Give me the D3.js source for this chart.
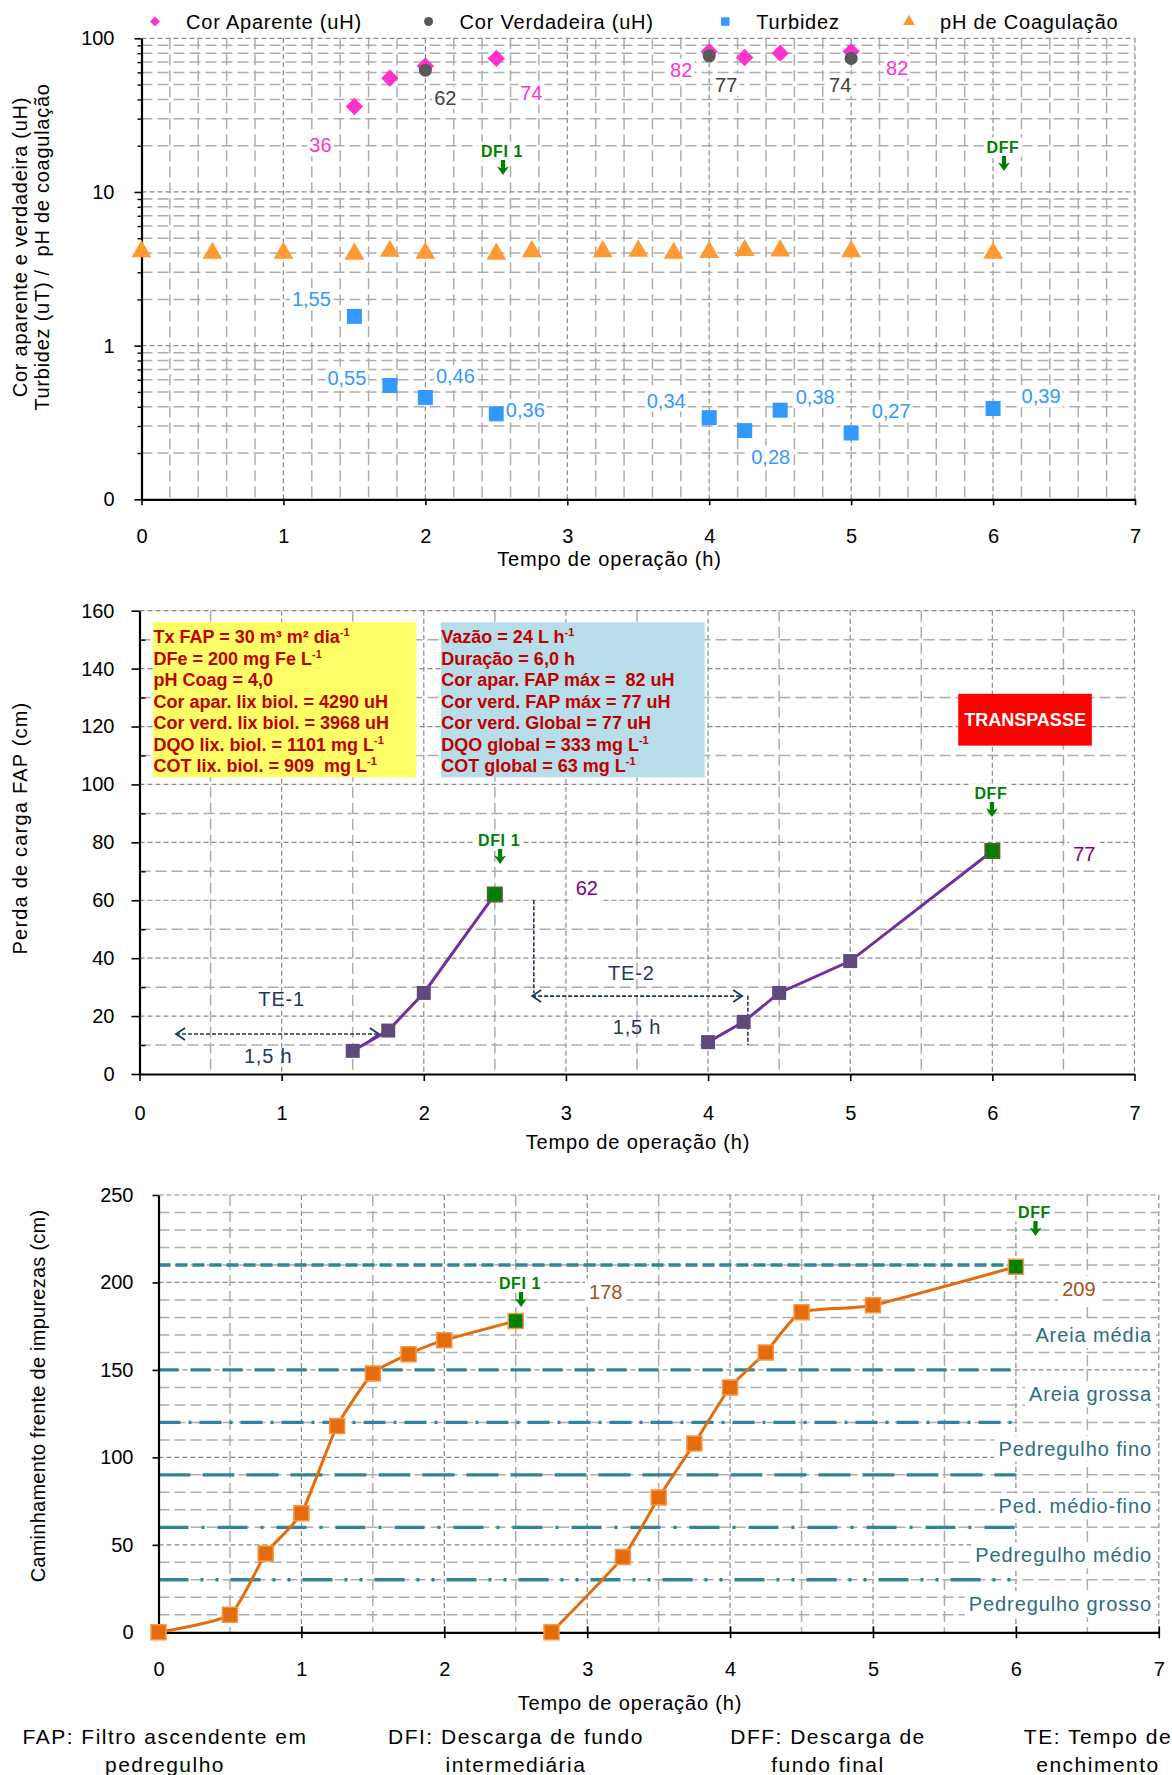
<!DOCTYPE html>
<html><head><meta charset="utf-8">
<script src="https://cdn.jsdelivr.net/npm/d3@7"></script>
<style>
body{margin:0;background:#fff;}
svg text{font-family:Arial,"Liberation Sans",sans-serif;}
</style></head><body>
<svg id="c" width="1172" height="1775"></svg>
<script>
// ---------------- DATA ----------------
const xTicks = [0,1,2,3,4,5,6,7];
// Chart 1 (log)
const y1Ticks = [0.1,1,10,100];
const y1TickLabels = ["0","1","10","100"];
const corApTime = [1.5,1.75,2,2.5,4,4.25,4.5,5];
const corApVal  = [36,55,66,74,82,75,80,82];
const corVerTime = [2,4,5];
const corVerVal  = [62,77,74];
const turbTime = [1.5,1.75,2,2.5,4,4.25,4.5,5,6];
const turbVal  = [1.55,0.55,0.46,0.36,0.34,0.28,0.38,0.27,0.39];
const phTime = [0,0.5,1,1.5,1.75,2,2.5,2.75,3.25,3.5,3.75,4,4.25,4.5,5,6];
const phVal  = [4.1,4.0,4.0,3.95,4.12,4.0,3.95,4.1,4.1,4.13,4.0,4.05,4.17,4.15,4.1,4.0];
const legendNames = ["Cor Aparente (uH)","Cor Verdadeira (uH)","Turbidez","pH de Coagulação"];
// labelled points (indices) and label offsets (px)
const corApLabIdx = [0,3,4,7];
const corApLabDx = [-34,35,-28,46], corApLabDy = [39,35,18,16];
const corVerLabDx = [20,17,-11], corVerLabDy = [28,29,27];
const turbLabDx = [-43,-43,30,29,-43,26,35,40,48], turbLabDy = [-17,-8,-21,-4,-17,26,-13,-22,-12];

// Chart 2 (perda de carga)
const y2Ticks = [0,20,40,60,80,100,120,140,160];
const pc1Time = [1.5,1.75,2,2.5], pc1Val = [8,15,28,62];
const pc2Time = [4,4.25,4.5,5,6], pc2Val = [11,18,28,39,77];
const boxYellow = ["Tx FAP = 30 m³ m² dia^-1","DFe = 200 mg Fe L^-1","pH Coag = 4,0","Cor apar. lix biol. = 4290 uH","Cor verd. lix biol. = 3968 uH","DQO lix. biol. = 1101 mg L^-1","COT lix. biol. = 909  mg L^-1"];
const boxBlue = ["Vazão = 24 L h^-1","Duração = 6,0 h","Cor apar. FAP máx =  82 uH","Cor verd. FAP máx = 77 uH","Cor verd. Global = 77 uH","DQO global = 333 mg L^-1","COT global = 63 mg L^-1"];

// Chart 3 (caminhamento)
const y3Ticks = [0,50,100,150,200,250];
const cf1Time = [0,0.5,0.75,1,1.25,1.5,1.75,2,2.5], cf1Val = [0,10,45,68,118,148,159,167,178];
const cf2Time = [2.75,3.25,3.5,3.75,4,4.25,4.5,5,6], cf2Val = [0,43,77,108,140,160,183,187,209];
const layerDepth = [210,150,120,90,60,30];
const layerDash = ["12,5","20,12","22,8,3,8","32,12","30,13,3,13","30,12,3,12,3,12"];
const layerNames = ["Areia média","Areia grossa","Pedregulho fino","Ped. médio-fino","Pedregulho médio","Pedregulho grosso"];
const layerLabelAt = [170,136,105,72,44,16];
const footer = [["FAP: Filtro ascendente em","pedregulho"],["DFI: Descarga de fundo","intermediária"],["DFF: Descarga de","fundo final"],["TE: Tempo de","enchimento"]];

// ---------------- DRAW ----------------
const svg = d3.select("#c");
const FS = 20;

function addLabel(g, x, y, txt, o = {}) {
  const t = g.append("text").attr("x", x).attr("y", y).attr("dy", "0.35em")
    .attr("text-anchor", o.anchor || "middle")
    .attr("font-size", o.size || FS)
    .attr("font-weight", o.weight || "normal")
    .attr("fill", o.color || "#000")
    .attr("letter-spacing", o.ls || 0)
    .style("white-space", "pre")
    .text(txt);
  if (o.bg) {
    const b = t.node().getBBox();
    const p = o.pad || 2;
    g.insert("rect", () => t.node())
      .attr("x", b.x - p).attr("y", b.y - p + 2)
      .attr("width", b.width + 2 * p).attr("height", b.height + 2 * p - 4)
      .attr("fill", "#fff");
  }
  return t;
}
function downArrow(g, cx, top, color) {
  const h = 15, sw = 4.2, w = 12, hh = 7;
  g.append("path")
    .attr("d", `M${cx-sw/2},${top}L${cx+sw/2},${top}L${cx+sw/2},${top+h-hh}L${cx+w/2},${top+h-hh-1.5}L${cx},${top+h}L${cx-w/2},${top+h-hh-1.5}L${cx-sw/2},${top+h-hh}Z`)
    .attr("fill", color);
}
function grid(g, x, y, vVals, hVals, vMajor, hMajor) {
  const [x0, x1] = x.range(), [yb, yt] = y.range();
  const st = (s, m) => s.attr("stroke", m ? "#8a8a8a" : "#adadad")
    .attr("stroke-width", m ? 1.2 : 1.5)
    .attr("stroke-dasharray", m ? "5,3" : "11,5");
  vVals.forEach(v => st(g.append("line").attr("x1", x(v)).attr("x2", x(v)).attr("y1", yt).attr("y2", yb), vMajor(v)));
  hVals.forEach(v => st(g.append("line").attr("y1", y(v)).attr("y2", y(v)).attr("x1", x0).attr("x2", x1), hMajor(v)));
}
function styleAxis(a) {
  a.selectAll("text").attr("font-size", FS).attr("fill", "#000").attr("font-family", 'Arial,"Liberation Sans",sans-serif');
  a.selectAll("line").attr("stroke", "#000").attr("stroke-width", 1.6);
  a.select(".domain").attr("stroke", "#000").attr("stroke-width", 2.2);
}
function yTitle(x, y, txt, ls) {
  svg.append("text").attr("transform", `translate(${x},${y}) rotate(-90)`).attr("text-anchor", "middle").attr("dy", "0.35em")
    .attr("font-size", FS).attr("letter-spacing", ls).style("white-space", "pre").text(txt);
}
const isInt = v => Math.abs(v - Math.round(v)) < 1e-6;

// ===== Chart 1 =====
const x1 = d3.scaleLinear().domain([0, 7]).range([141.5, 1135]);
const y1 = d3.scaleLog().domain([0.1, 100]).range([499.3, 38.3]);
const c1 = svg.append("g");
const minors1 = [];
[0.1, 1, 10].forEach(b => { for (let k = 2; k <= 9; k++) minors1.push(b * k); });
grid(c1, x1, y1, d3.range(0.2, 7.01, 0.2).map(v => +v.toFixed(1)), [1, 10, 100].concat(minors1),
  v => isInt(v), v => [1, 10, 100].includes(v));

const ax1 = c1.append("g").attr("transform", `translate(0,${y1(0.1)})`)
  .call(d3.axisBottom(x1).tickValues(xTicks).tickSize(6).tickSizeOuter(0).tickPadding(24).tickFormat(d3.format("d")));
styleAxis(ax1);
c1.append("g").attr("transform", `translate(${x1(0)},0)`)
  .call(d3.axisLeft(y1).tickValues(minors1).tickSize(4).tickSizeOuter(0).tickFormat(""))
  .call(a => { a.select(".domain").remove(); a.selectAll("line").attr("stroke", "#000").attr("stroke-width", 1.4); });
const ay1 = c1.append("g").attr("transform", `translate(${x1(0)},0)`)
  .call(d3.axisLeft(y1).tickValues(y1Ticks).tickSize(7).tickSizeOuter(0).tickPadding(20).tickFormat((d, i) => y1TickLabels[i]));
styleAxis(ay1);

const diamond = d3.symbol(d3.symbolSquare, 150)();
const tri = d3.symbol(d3.symbolTriangle, 170)();
const sq1 = d3.symbol(d3.symbolSquare, 225)();
const circ = d3.symbol(d3.symbolCircle, 135)();
c1.append("g").selectAll("path").data(phTime).join("path")
  .attr("d", tri).attr("fill", "#FF9933")
  .attr("transform", (d, i) => `translate(${x1(d)},${y1(phVal[i])})`);
c1.append("g").selectAll("path").data(corApTime).join("path")
  .attr("d", diamond).attr("fill", "#FF33CC")
  .attr("transform", (d, i) => `translate(${x1(d)},${y1(corApVal[i])}) rotate(45)`);
c1.append("g").selectAll("path").data(corVerTime).join("path")
  .attr("d", circ).attr("fill", "#595959")
  .attr("transform", (d, i) => `translate(${x1(d)},${y1(corVerVal[i])})`);
c1.append("g").selectAll("path").data(turbTime).join("path")
  .attr("d", sq1).attr("fill", "#3399FF")
  .attr("transform", (d, i) => `translate(${x1(d)},${y1(turbVal[i])})`);

const fmt = v => String(v).replace(".", ",");
corApLabIdx.forEach((idx, j) => addLabel(c1, x1(corApTime[idx]) + corApLabDx[j], y1(corApVal[idx]) + corApLabDy[j], fmt(corApVal[idx]), { color: "#FF33CC", bg: true }));
corVerTime.forEach((t, i) => addLabel(c1, x1(t) + corVerLabDx[i], y1(corVerVal[i]) + corVerLabDy[i], fmt(corVerVal[i]), { color: "#404040", bg: true }));
turbTime.forEach((t, i) => addLabel(c1, x1(t) + turbLabDx[i], y1(turbVal[i]) + turbLabDy[i], fmt(turbVal[i]), { color: "#3399FF", bg: true }));

function dfMark(g, cx, ty, txt) {
  addLabel(g, cx, ty, txt, { color: "#008000", weight: "bold", size: 16, ls: 0.6, bg: true, pad: 3 });
  downArrow(g, cx + 1, ty + 9, "#008000");
}
dfMark(c1, x1(2.54), 151, "DFI 1");
dfMark(c1, x1(6.07), 147, "DFF");

// legend
const leg = svg.append("g");
const legX = [155, 428.6, 725.3, 909];
const legSyms = [
  s => s.append("path").attr("d", d3.symbol(d3.symbolSquare, 50)()).attr("fill", "#FF33CC").attr("transform", "rotate(45)"),
  s => s.append("path").attr("d", d3.symbol(d3.symbolCircle, 64)()).attr("fill", "#595959"),
  s => s.append("path").attr("d", d3.symbol(d3.symbolSquare, 72)()).attr("fill", "#3399FF"),
  s => s.append("path").attr("d", d3.symbol(d3.symbolTriangle, 60)()).attr("fill", "#FF9933")
];
legendNames.forEach((n, i) => {
  const gg = leg.append("g").attr("transform", `translate(${legX[i]},21.5)`);
  legSyms[i](gg);
  addLabel(leg, legX[i] + 31, 21.5, n, { anchor: "start", ls: 0.8 });
});

yTitle(20, 247, "Cor aparente e verdadeira (uH)", 0.75);
yTitle(42, 247, "Turbidez (uT) /  pH de coagulação", 0.75);
addLabel(svg, 609.5, 559, "Tempo de operação (h)", { ls: 0.85 });

// ===== Chart 2 =====
const x2 = d3.scaleLinear().domain([0, 7]).range([139.5, 1134.5]);
const y2 = d3.scaleLinear().domain([0, 160]).range([1074, 610.7]);
const c2 = svg.append("g");
grid(c2, x2, y2, d3.range(0.5, 7.01, 0.5), d3.range(10, 161, 10), v => isInt(v), v => v % 20 === 0);

function infoBox(g, xa, xb, ya, yb, fill, lines) {
  g.append("rect").attr("x", x2(xa)).attr("y", y2(ya)).attr("width", x2(xb) - x2(xa)).attr("height", y2(yb) - y2(ya)).attr("fill", fill);
  lines.forEach((ln, i) => {
    const parts = ln.split("^");
    const t = g.append("text").attr("x", x2(xa) + 0.5).attr("y", y2(ya) + 21 + i * 21.5)
      .attr("font-size", 18).attr("font-weight", "bold").attr("fill", "#C00000").style("white-space", "pre");
    t.append("tspan").text(parts[0]);
    if (parts[1]) t.append("tspan").attr("font-size", 11).attr("dy", -7).text(parts[1]);
  });
}
infoBox(c2, 0.095, 1.947, 156, 102.5, "#FFFF66", boxYellow);
infoBox(c2, 2.12, 3.976, 156, 102.5, "#B7DDE8", boxBlue);
c2.append("rect").attr("x", x2(5.76)).attr("y", y2(131.3)).attr("width", x2(6.7) - x2(5.76)).attr("height", y2(113.4) - y2(131.3)).attr("fill", "#FF0000");
addLabel(c2, (x2(5.76) + x2(6.7)) / 2, y2(122.4), "TRANSPASSE", { color: "#fff", weight: "bold", size: 18 });

const ax2 = c2.append("g").attr("transform", `translate(0,${y2(0)})`)
  .call(d3.axisBottom(x2).tickValues(xTicks).tickSize(7).tickSizeOuter(0).tickPadding(25).tickFormat(d3.format("d")));
styleAxis(ax2);
c2.append("g").attr("transform", `translate(${x2(0)},0)`)
  .call(d3.axisRight(y2).tickValues(d3.range(10, 161, 20)).tickSize(6).tickSizeOuter(0).tickFormat(""))
  .call(a => { a.select(".domain").remove(); a.selectAll("line").attr("stroke", "#000").attr("stroke-width", 1.4); });
const ay2 = c2.append("g").attr("transform", `translate(${x2(0)},0)`)
  .call(d3.axisLeft(y2).tickValues(y2Ticks).tickSize(8).tickSizeOuter(0).tickPadding(17));
styleAxis(ay2);

const navy = "#1F3864";
function dashLine(g, xa, ya, xb, yb) {
  g.append("line").attr("x1", xa).attr("y1", ya).attr("x2", xb).attr("y2", yb)
    .attr("stroke", navy).attr("stroke-width", 1.6).attr("stroke-dasharray", "4,2");
}
function chevron(g, x, y, dir) {
  g.append("path").attr("d", `M${x - dir * 9},${y - 6}L${x},${y}L${x - dir * 9},${y + 6}`)
    .attr("fill", "none").attr("stroke", navy).attr("stroke-width", 1.8);
}
dashLine(c2, x2(0.257), y2(13.8), x2(1.684), y2(13.8));
chevron(c2, x2(0.257), y2(13.8), -1);
chevron(c2, x2(1.684), y2(13.8), 1);
addLabel(c2, x2(1.0), y2(26), "TE-1", { color: navy, ls: 0.8 });
addLabel(c2, x2(0.905), y2(6.2), "1,5 h", { color: navy, ls: 0.8 });
dashLine(c2, x2(2.774), y2(60), x2(2.774), y2(28));
dashLine(c2, x2(2.762), y2(26.9), x2(4.24), y2(26.9));
chevron(c2, x2(2.762), y2(26.9), -1);
chevron(c2, x2(4.24), y2(26.9), 1);
dashLine(c2, x2(4.28), y2(27), x2(4.28), y2(10));
addLabel(c2, x2(3.46), y2(35), "TE-2", { color: navy, ls: 0.8 });
addLabel(c2, x2(3.5), y2(16.3), "1,5 h", { color: navy, ls: 0.8 });

const line2 = d3.line().x(d => x2(d[0])).y(d => y2(d[1]));
const sq2 = d3.symbol(d3.symbolSquare, 196)();
[[pc1Time, pc1Val], [pc2Time, pc2Val]].forEach(([t, v]) => {
  const pts = t.map((d, i) => [d, v[i]]);
  c2.append("path").datum(pts).attr("d", line2).attr("fill", "none").attr("stroke", "#7030A0").attr("stroke-width", 3);
  c2.append("g").selectAll("path").data(pts).join("path").attr("d", sq2)
    .attr("fill", (d, i) => i === pts.length - 1 ? "#008000" : "#604A7B")
    .attr("stroke", (d, i) => i === pts.length - 1 ? "#4F6228" : "none").attr("stroke-width", 2)
    .attr("transform", d => `translate(${x2(d[0])},${y2(d[1])})`);
});
addLabel(c2, x2(2.5) + 92, y2(62) - 6, String(pc1Val[3]), { color: "#800080", bg: true, pad: 4 });
addLabel(c2, x2(6) + 92, y2(77) + 3, String(pc2Val[4]), { color: "#800080", bg: true, pad: 4 });
dfMark(c2, x2(2.53), 840, "DFI 1");
dfMark(c2, x2(5.99), 793, "DFF");

yTitle(20, 828, "Perda de carga FAP (cm)", 1.2);
addLabel(svg, 638, 1141.7, "Tempo de operação (h)", { ls: 0.85 });

// ===== Chart 3 =====
const x3 = d3.scaleLinear().domain([0, 7]).range([158.5, 1158.8]);
const y3 = d3.scaleLinear().domain([0, 250]).range([1632.3, 1195]);
const c3 = svg.append("g");
grid(c3, x3, y3, d3.range(0.5, 7.01, 0.5), d3.range(10, 251, 10), v => isInt(v), v => v % 50 === 0);
layerDepth.forEach((d, i) => {
  c3.append("line").attr("x1", x3(0)).attr("x2", x3(6)).attr("y1", y3(d)).attr("y2", y3(d))
    .attr("stroke", "#31849B").attr("stroke-width", 3.4).attr("stroke-dasharray", layerDash[i]);
});
layerNames.forEach((n, i) => addLabel(c3, 1152, y3(layerLabelAt[i]), n, { anchor: "end", color: "#2C6E80", ls: 0.9, bg: true, pad: 4 }));

const ax3 = c3.append("g").attr("transform", `translate(0,${y3(0)})`)
  .call(d3.axisBottom(x3).tickValues(xTicks).tickSize(6).tickSizeOuter(0).tickPadding(24).tickFormat(d3.format("d")));
styleAxis(ax3);
ax3.selectAll(".tick line").attr("y1", -6);
const ay3 = c3.append("g").attr("transform", `translate(${x3(0)},0)`)
  .call(d3.axisLeft(y3).tickValues(y3Ticks).tickSize(6).tickSizeOuter(0).tickPadding(19));
styleAxis(ay3);

const line3 = d3.line().x(d => x3(d[0])).y(d => y3(d[1])).curve(d3.curveCardinal.tension(0.45));
const sq3 = d3.symbol(d3.symbolSquare, 225)();
[[cf1Time, cf1Val], [cf2Time, cf2Val]].forEach(([t, v]) => {
  const pts = t.map((d, i) => [d, v[i]]);
  c3.append("path").datum(pts).attr("d", line3).attr("fill", "none").attr("stroke", "#E46C0A").attr("stroke-width", 3);
  c3.append("g").selectAll("path").data(pts).join("path").attr("d", sq3)
    .attr("fill", (d, i) => i === pts.length - 1 ? "#008000" : "#E46C0A")
    .attr("stroke", "#F79646").attr("stroke-width", 1.5)
    .attr("transform", d => `translate(${x3(d[0])},${y3(d[1])})`);
});
addLabel(c3, x3(2.5) + 90, y3(178) - 29, String(cf1Val[8]), { color: "#A5501A", bg: true, pad: 4 });
addLabel(c3, x3(6) + 63, y3(209) + 22, String(cf2Val[8]), { color: "#A5501A", bg: true, pad: 4 });
dfMark(c3, x3(2.53), 1283, "DFI 1");
dfMark(c3, x3(6.13), 1212, "DFF");

yTitle(38, 1396, "Caminhamento frente de impurezas (cm)", 0.25);
addLabel(svg, 630, 1703.3, "Tempo de operação (h)", { ls: 0.85 });

const footX = [165, 516, 828, 1098];
footer.forEach((f, i) => {
  f.forEach((ln, j) => addLabel(svg, footX[i], 1736.7 + j * 28.3, ln, { size: 21, ls: 1.5 }));
});
</script>
</body></html>
